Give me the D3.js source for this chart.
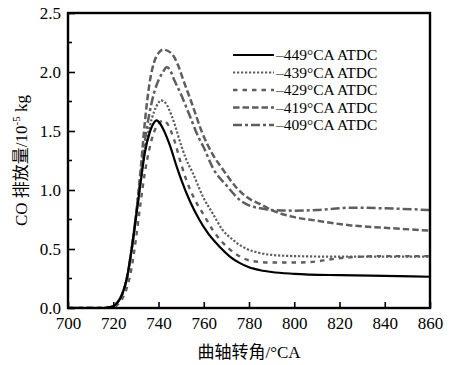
<!DOCTYPE html>
<html>
<head>
<meta charset="utf-8">
<title>CO 排放量</title>
<script src="https://d3js.org/d3.v7.min.js"></script>
<style>
  body { margin: 0; background: #fff; }
  text { font-family: "Liberation Serif", "Times New Roman", serif; fill: #000; }
  .cjk { font-family: "Liberation Serif", "Noto Sans CJK SC", serif; }
</style>
</head>
<body>
<div class="chart"></div>
<script>
// data: crank angle (°CA) -> CO emission (10^-5 kg)
const s449 = [[700,0],[716,0],[718,0.005],[720,0.015],[722,0.05],[724,0.12],[726,0.25],[728,0.48],[730,0.76],[732,1.05],[734,1.32],[736,1.48],[738,1.57],[739,1.59],[740,1.58],[742,1.52],[745,1.38],[748,1.2],[750,1.09],[754,0.9],[758,0.75],[762,0.63],[767,0.52],[772,0.43],[776,0.38],[780,0.345],[785,0.32],[790,0.305],[800,0.29],[820,0.278],[840,0.272],[860,0.265]]
const s439 = [[700,0],[716,0],[718,0.005],[720,0.015],[722,0.05],[724,0.12],[726,0.25],[728,0.48],[730,0.76],[732,1.05],[734,1.34],[736,1.53],[738,1.66],[740,1.74],[741,1.76],[743,1.74],[746,1.62],[750,1.38],[752,1.27],[755,1.15],[760,0.93],[764,0.8],[768,0.67],[773,0.576],[778,0.51],[785,0.465],[790,0.45],[800,0.44],[820,0.435],[840,0.435],[860,0.435]]
const s429 = [[700,0],[718,0],[720,0.005],[722,0.03],[724,0.08],[726,0.17],[728,0.33],[730,0.58],[732,0.88],[734,1.15],[736,1.35],[738,1.49],[740,1.56],[742,1.59],[744,1.56],[747,1.42],[750,1.22],[752.4,1.08],[756,0.92],[760,0.79],[764,0.66],[768.6,0.55],[774,0.46],[779,0.41],[785,0.39],[790,0.385],[800,0.385],[810,0.395],[815,0.41],[825,0.43],[840,0.44],[860,0.44]]
const s419 = [[700,0],[716,0],[718,0.005],[720,0.015],[722,0.05],[724,0.12],[726,0.25],[728,0.48],[730,0.78],[732,1.15],[734,1.58],[736,1.9],[738,2.08],[740,2.16],[742,2.19],[744,2.18],[746.5,2.14],[749,2.04],[751,1.93],[755,1.72],[759,1.5],[764,1.3],[768.6,1.17],[774,1.03],[779,0.94],[785,0.88],[790,0.83],[800,0.77],[810,0.74],[825,0.7],[840,0.68],[860,0.655]]
const s409 = [[700,0],[716,0],[718,0.005],[720,0.015],[722,0.05],[724,0.12],[726,0.25],[728,0.48],[730,0.78],[732,1.1],[734,1.42],[736,1.65],[738,1.82],[740,1.93],[742,2.0],[743.6,2.04],[745,2.02],[747,1.93],[749.5,1.83],[754,1.62],[757.6,1.45],[760,1.36],[764.2,1.18],[770,1.04],[776,0.915],[780,0.87],[785,0.845],[790,0.83],[800,0.825],[810,0.83],[825,0.85],[840,0.845],[860,0.83]]

const seriesNames = ['\u2013449°CA ATDC', '\u2013439°CA ATDC', '\u2013429°CA ATDC', '\u2013419°CA ATDC', '\u2013409°CA ATDC']
const seriesData = [s449, s439, s429, s419, s409]
const xTicks = [700, 720, 740, 760, 780, 800, 820, 840, 860]
const yTicks = [0, 0.5, 1.0, 1.5, 2.0, 2.5]
const yMinor = [0.25, 0.75, 1.25, 1.75, 2.25]

const width = 450
const height = 365
const margin = { left: 68, right: 20, top: 13, bottom: 57 }

const styles = [
  { color: '#000', dash: null, w: 2.2 },
  { color: '#5e5e5e', dash: '2.2,1.8', w: 2.2 },
  { color: '#5e5e5e', dash: '4.5,5', w: 2.4 },
  { color: '#5e5e5e', dash: '6.5,3', w: 2.5 },
  { color: '#5e5e5e', dash: '9,3,3,3', w: 2.5 }
]

const svg = d3.select('.chart')
  .append('svg')
  .attr('width', width)
  .attr('height', height)

const x = d3.scaleLinear().domain([700, 860]).range([margin.left, width - margin.right])
const y = d3.scaleLinear().domain([0, 2.5]).range([height - margin.bottom, margin.top])

// axes (ticks inward)
const xAxis = svg.append('g')
  .attr('transform', `translate(0, ${y(0)})`)
  .call(d3.axisBottom(x).tickValues(xTicks).tickFormat(d3.format('d')).tickSizeInner(-6).tickSizeOuter(0).tickPadding(9))
xAxis.select('.domain').remove()
xAxis.selectAll('line').attr('stroke-width', 1.6)
xAxis.selectAll('text').attr('font-size', 17).style('font-family', '"Liberation Serif", serif')

const yAxis = svg.append('g')
  .attr('transform', `translate(${x(700)}, 0)`)
  .call(d3.axisLeft(y).tickValues(yTicks).tickFormat(d3.format('.1f')).tickSizeInner(-7).tickSizeOuter(0).tickPadding(7))
yAxis.select('.domain').remove()
yAxis.selectAll('line').attr('stroke-width', 1.6)
yAxis.selectAll('text').attr('font-size', 17).style('font-family', '"Liberation Serif", serif')

// minor y ticks
svg.append('g')
  .selectAll('line')
  .data(yMinor)
  .join('line')
  .attr('x1', x(700)).attr('x2', x(700) + 4)
  .attr('y1', d => y(d)).attr('y2', d => y(d))
  .attr('stroke', '#000').attr('stroke-width', 1.6)

// curves
const line = d3.line()
  .x(d => x(d[0]))
  .y(d => y(d[1]))
  .curve(d3.curveMonotoneX)

svg.append('clipPath').attr('id', 'clip')
  .append('rect')
  .attr('x', x(700)).attr('y', y(2.5))
  .attr('width', x(860) - x(700)).attr('height', y(0) - y(2.5))

const curves = svg.append('g').attr('clip-path', 'url(#clip)')
// draw back to front so the solid line sits on top
const order = [4, 3, 2, 1, 0]
order.forEach(i => {
  curves.append('path')
    .datum(seriesData[i])
    .attr('d', line)
    .attr('fill', 'none')
    .attr('stroke', styles[i].color)
    .attr('stroke-width', styles[i].w)
    .attr('stroke-dasharray', styles[i].dash)
})

// frame
svg.append('rect')
  .attr('x', x(700)).attr('y', y(2.5))
  .attr('width', x(860) - x(700)).attr('height', y(0) - y(2.5))
  .attr('fill', 'none')
  .attr('stroke', '#000')
  .attr('stroke-width', 2.4)

// legend
const legend = svg.append('g').attr('transform', 'translate(233, 55)')
seriesNames.forEach((name, i) => {
  const g = legend.append('g').attr('transform', `translate(0, ${i * 17.5})`)
  g.append('line')
    .attr('x1', 0).attr('x2', 41)
    .attr('y1', 0).attr('y2', 0)
    .attr('stroke', styles[i].color)
    .attr('stroke-width', styles[i].w)
    .attr('stroke-dasharray', styles[i].dash)
  g.append('text')
    .attr('x', 43).attr('y', 5)
    .attr('font-size', 15.5)
    .text(name)
})

// axis titles
svg.append('text')
  .attr('class', 'cjk')
  .attr('x', (x(700) + x(860)) / 2)
  .attr('y', 358)
  .attr('text-anchor', 'middle')
  .attr('font-size', 17)
  .text('曲轴转角/°CA')

const yt = svg.append('text')
  .attr('class', 'cjk')
  .attr('transform', `translate(27, ${(y(0) + y(2.5)) / 2}) rotate(-90)`)
  .attr('text-anchor', 'middle')
  .attr('font-size', 17)
yt.append('tspan').text('CO 排放量/10')
yt.append('tspan').attr('dy', -7).attr('font-size', 11).text('-5')
yt.append('tspan').attr('dy', 7).text(' kg')
</script>
</body>
</html>
